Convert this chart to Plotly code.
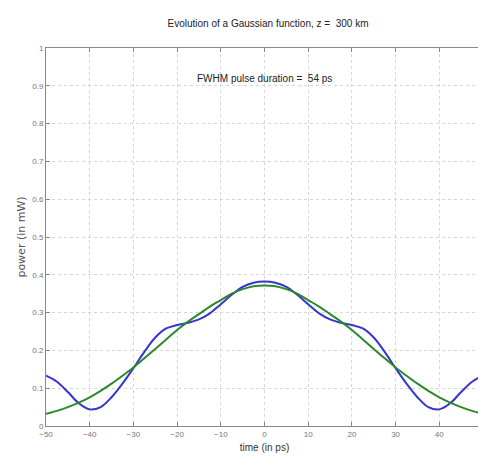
import plotly.graph_objects as go

# time axis (ps)
t_half = [0, 2.5, 5, 7.5, 10, 12.5, 15, 17.5, 20, 22.5, 25, 27.5, 30, 32.5, 35, 37.5, 40, 42.5, 45, 47.5, 50]
# blue: evolved pulse power (mW) (symmetric)
blue_half = [0.382, 0.379, 0.368, 0.347, 0.322, 0.298, 0.282, 0.273, 0.267, 0.258, 0.234, 0.196, 0.153, 0.112, 0.076, 0.050, 0.044, 0.060, 0.090, 0.117, 0.133]
# green: Gaussian reference (mW)
green_half = [0.372, 0.370, 0.362, 0.350, 0.333, 0.316, 0.296, 0.276, 0.254, 0.229, 0.204, 0.179, 0.155, 0.133, 0.112, 0.093, 0.076, 0.062, 0.050, 0.040, 0.032]

t = [-v for v in t_half[:0:-1]] + t_half
blue = blue_half[:0:-1] + blue_half
green = green_half[:0:-1] + green_half

x_ticks = [-50, -40, -30, -20, -10, 0, 10, 20, 30, 40, 50]
y_ticks = [0, 0.1, 0.2, 0.3, 0.4, 0.5, 0.6, 0.7, 0.8, 0.9, 1]
y_labels = ["0", "0.1", "0.2", "0.3", "0.4", "0.5", "0.6", "0.7", "0.8", "0.9", "1"]

font_family = "Liberation Sans Narrow, Liberation Sans, Arial, sans-serif"

fig = go.Figure()
fig.add_trace(go.Scatter(x=t, y=blue, mode="lines", line=dict(color="#3535d0", width=2, shape="spline"), showlegend=False))
fig.add_trace(go.Scatter(x=t, y=green, mode="lines", line=dict(color="#2a8a2a", width=2, shape="spline"), showlegend=False))

fig.update_layout(
    width=486, height=456,
    margin=dict(l=38, r=11, t=40, b=38, autoexpand=False),
    paper_bgcolor="white", plot_bgcolor="white",
    title=dict(text="Evolution of a Gaussian function, z =  300 km", x=0.535, xanchor="center", y=0.967, yanchor="middle",
               font=dict(family=font_family, size=10, color="#222")),
    font=dict(family=font_family, color="#555"),
    xaxis=dict(range=[-50, 50], tickvals=x_ticks, ticks="inside", ticklen=4, tickcolor="#888",
               showgrid=True, gridcolor="#d6d6d6", griddash="dot", gridwidth=1,
               showline=True, linecolor="#888", mirror="allticks", linewidth=1,
               zeroline=False, tickfont=dict(size=8, color="#777"), automargin=False,
               title=dict(text="time (in ps)", font=dict(size=10, color="#333"), standoff=6)),
    yaxis=dict(range=[0, 1], tickvals=y_ticks, ticktext=y_labels, ticks="inside", ticklen=4, tickcolor="#888",
               showgrid=True, gridcolor="#d6d6d6", griddash="dot", gridwidth=1,
               showline=True, linecolor="#888", mirror="allticks", linewidth=1,
               zeroline=False, tickfont=dict(size=8, color="#777"), automargin=False,
               title=dict(text="power (in mW)", font=dict(size=11, color="#555", family="DejaVu Sans"), standoff=4)),
)
fig.add_annotation(x=0, y=0.92, xref="x", yref="y", text="FWHM pulse duration =  54 ps", showarrow=False,
                   font=dict(family=font_family, size=10, color="#222"))

fig.write_html("out.html")
